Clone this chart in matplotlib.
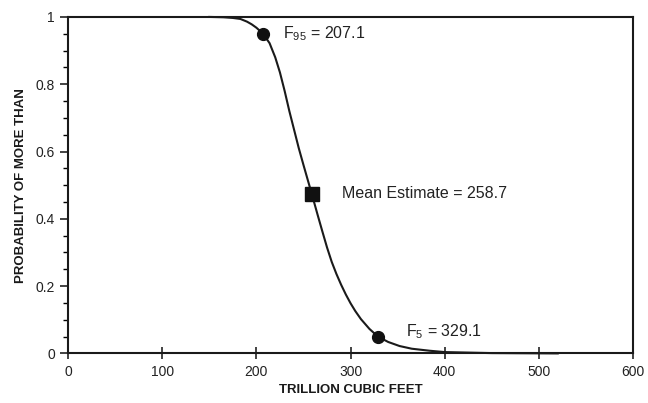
import matplotlib
matplotlib.use("Agg")
import matplotlib.pyplot as plt
from matplotlib.ticker import MultipleLocator

plt.rcParams['font.family'] = ['Liberation Sans', 'DejaVu Sans']
plt.rcParams['mathtext.fontset'] = 'custom'
plt.rcParams['mathtext.rm'] = 'Liberation Sans'

# curve (trillion cubic feet, probability of more than)
tcf = [150, 165, 175, 183, 190, 195, 200, 207.1, 214, 220, 225, 230, 235, 240, 245,
       250, 258.7, 265, 270, 275, 280, 285, 290, 295, 300, 305, 311, 320, 329.1,
       340, 352, 365, 384, 400, 450, 520]
prob = [1.0, 0.999, 0.997, 0.994, 0.986, 0.978, 0.968, 0.95, 0.922, 0.88, 0.835,
        0.78, 0.72, 0.665, 0.61, 0.56, 0.475, 0.412, 0.363, 0.315, 0.272, 0.236,
        0.204, 0.175, 0.149, 0.126, 0.102, 0.073, 0.05, 0.034, 0.022, 0.014, 0.008,
        0.004, 0.001, 0.0]

f95 = (207.1, 0.95)
f5 = (329.1, 0.05)
mean_est = (258.7, 0.475)

fig = plt.figure(figsize=(6.48, 4.03), dpi=100)
ax = fig.add_axes([0.105, 0.123, 0.872, 0.835])

ax.plot(tcf, prob, color='#1a1a1a', lw=1.5, clip_on=False)
ax.plot([f95[0], f5[0]], [f95[1], f5[1]], 'o', color='#111', ms=8.5)
ax.plot([mean_est[0]], [mean_est[1]], 's', color='#111', ms=10)

ax.annotate(r'F$_{\mathrm{95}}$ = 207.1', f95, xytext=(14, 0), textcoords='offset points',
            va='center', ha='left', fontsize=11.5, color='#222')
ax.annotate('Mean Estimate = 258.7', mean_est, xytext=(22, 0), textcoords='offset points',
            va='center', ha='left', fontsize=11.5, color='#222')
ax.annotate(r'F$_{\mathrm{5}}$ = 329.1', f5, xytext=(20, 3.5), textcoords='offset points',
            va='center', ha='left', fontsize=11.5, color='#222')

ax.set_xlim(0, 600)
ax.set_ylim(0, 1)
ax.xaxis.set_major_locator(MultipleLocator(100))
ax.yaxis.set_major_locator(MultipleLocator(0.2))
ax.yaxis.set_minor_locator(MultipleLocator(0.05))
ax.yaxis.set_major_formatter(plt.FuncFormatter(lambda v, p: '%g' % round(v, 2)))

ax.tick_params(axis='x', which='major', direction='inout', length=8, width=1.2,
               labelsize=10, colors='#222', pad=4)
ax.tick_params(axis='y', which='major', direction='out', length=6, width=1.2,
               labelsize=10, colors='#222')
ax.tick_params(axis='y', which='minor', direction='out', length=3.5, width=1.0)

for s in ax.spines.values():
    s.set_linewidth(1.5)
    s.set_color('#1a1a1a')

ax.set_xlabel('TRILLION CUBIC FEET', fontsize=9.5, fontweight='bold', color='#1a1a1a', labelpad=4)
ax.set_ylabel('PROBABILITY OF MORE THAN', fontsize=9.5, fontweight='bold', color='#1a1a1a', labelpad=6)

fig.savefig('out.png', dpi=100)
